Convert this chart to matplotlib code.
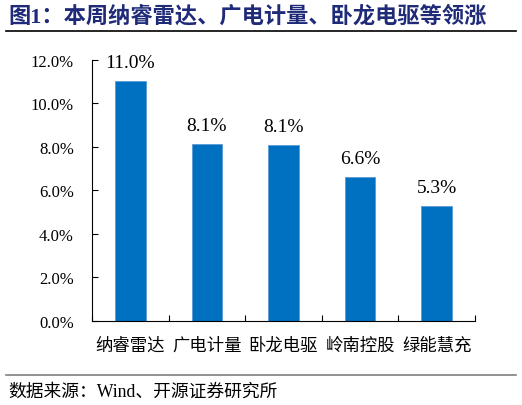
import matplotlib
matplotlib.use("Agg")
import matplotlib.pyplot as plt
from matplotlib.lines import Line2D

plt.rcParams['font.family'] = ['Liberation Serif', 'Noto Sans CJK SC', 'DejaVu Sans']

# data
names = ['纳睿雷达', '广电计量', '卧龙电驱', '岭南控股', '绿能慧充']
gains = [11.0, 8.12, 8.06, 6.62, 5.28]
yticks = [0, 2, 4, 6, 8, 10, 12]

fig = plt.figure(figsize=(5.22, 4.06), dpi=100)
ax = fig.add_axes([0.1762, 0.2079, 0.7338, 0.6426])

x = list(range(len(names)))
ax.bar(x, gains, width=0.4, color='#0070C0', edgecolor='#5B9BD5', linewidth=0.6)
for xi, v in zip(x, gains):
    ax.text(xi, v + 0.85, '%.1f%%' % v, ha='center', va='center', fontsize=14)

ax.set_xlim(-0.5, len(names) - 0.5)
ax.set_ylim(0, 12)
ax.set_yticks(yticks)
ax.set_yticklabels(['%.1f%%' % t for t in yticks], fontsize=12)
ax.tick_params(axis='y', direction='in', length=4, pad=13, width=0.8)

# ticks between categories, names under the bars
ax.set_xticks([i - 0.5 for i in range(len(names) + 1)])
ax.set_xticklabels([])
ax.tick_params(axis='x', which='major', direction='in', length=4, width=0.8)
ax.set_xticks(x, minor=True)
ax.set_xticklabels(names, minor=True, fontsize=12.5, family=['Noto Sans CJK SC'])
ax.tick_params(axis='x', which='minor', length=0, pad=11)

for s in ['top', 'right']:
    ax.spines[s].set_visible(False)
ax.spines['left'].set_linewidth(0.8)
ax.spines['bottom'].set_linewidth(0.8)

fig.text(0.016, 0.958, '图1：本周纳睿雷达、广电计量、卧龙电驱等领涨', fontsize=16,
         fontweight='bold', color='#1F2A78', va='center', ha='left')
fig.add_artist(Line2D([0.012, 0.988], [0.922, 0.922], color='black', linewidth=1.2))
fig.add_artist(Line2D([0.012, 0.988], [0.074, 0.074], color='#7F7F7F', linewidth=1.2))
fig.text(0.016, 0.035, '数据来源：Wind、开源证券研究所', fontsize=12.8, va='center', ha='left')

fig.savefig('out.png', dpi=100)
